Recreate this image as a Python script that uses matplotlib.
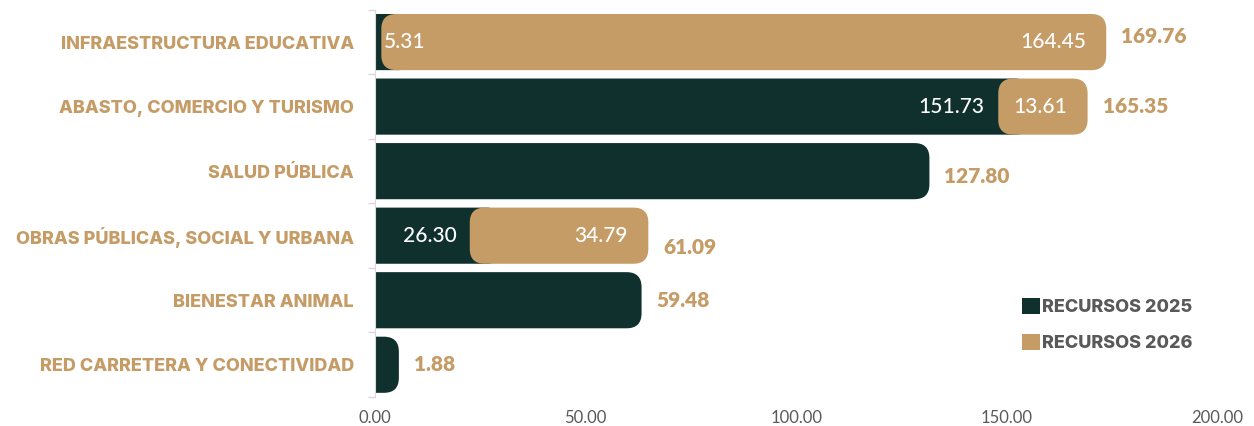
import matplotlib
matplotlib.use("Agg")
import matplotlib.pyplot as plt
from matplotlib.patches import FancyBboxPatch, Patch
from matplotlib.ticker import FuncFormatter

categorias = ["INFRAESTRUCTURA EDUCATIVA", "ABASTO, COMERCIO Y TURISMO", "SALUD PÚBLICA",
              "OBRAS PÚBLICAS, SOCIAL Y URBANA", "BIENESTAR ANIMAL", "RED CARRETERA Y CONECTIVIDAD"]
recursos_2025 = [5.31, 151.73, 127.80, 26.30, 59.48, 1.88]
recursos_2026 = [164.45, 13.61, 0, 34.79, 0, 0]
totales = [169.76, 165.35, 127.80, 61.09, 59.48, 1.88]
series = ["RECURSOS 2025", "RECURSOS 2026"]
ticks_x = [0, 50, 100, 150, 200]

VERDE = "#10302e"
ORO = "#c59b66"
GRIS = "#595959"

plt.rcParams["font.family"] = ["Lato", "DejaVu Sans"]

fig = plt.figure(figsize=(12.54, 4.26), dpi=100)
ax = fig.add_axes([0.299, 0.068, 0.672, 0.909])
ax.set_xlim(0, 200)
ax.set_ylim(5.5, -0.5)

# tamaño de un pixel en unidades de datos (para las barras redondeadas)
px_x = 200 / (0.672 * 1254)
px_y = 6 / (0.909 * 426)
pad = 16 * px_x
alto = 0.87
radio = 15 * px_x
# pequeños desplazamientos verticales de las etiquetas de total (como en el original)
nudge_total = [-0.09, 0, 0.08, 0.18, 0, 0]


def barra(x0, x1, y, color):
    p = FancyBboxPatch((x0 - pad, y - alto / 2), (x1 - x0) + 2 * pad, alto,
                       boxstyle="round,pad=0,rounding_size=%f" % radio,
                       mutation_aspect=px_y / px_x, fc=color, ec="none", zorder=2)
    ax.add_patch(p)


for i in range(len(categorias)):
    v25 = recursos_2025[i]
    v26 = recursos_2026[i]
    barra(0, v25, i, VERDE)
    if v26 > 0:
        barra(v25, v25 + v26, i, ORO)
        # etiquetas internas
        if v25 < 10:
            ax.text(2, i, "%.2f" % v25, ha="left", va="center", color="white",
                    fontsize=15, fontweight="medium", zorder=3)
        else:
            ax.text(v25 - 7, i, "%.2f" % v25, ha="right", va="center", color="white",
                    fontsize=15, fontweight="medium", zorder=3)
        ax.text(v25 + v26 - 1, i, "%.2f" % v26, ha="right", va="center", color="white",
                fontsize=15, fontweight="medium", zorder=3)
    ax.text(totales[i] + pad + 15 * px_x, i + nudge_total[i], "%.2f" % totales[i],
            ha="left", va="center", color=ORO, fontsize=15, fontweight=800, zorder=3)

ax.set_yticks(range(len(categorias)))
ax.set_yticklabels(categorias, color=ORO, fontsize=13, fontweight=800,
                   family=["Inter", "Lato"])
ax.set_yticks([i - 0.5 for i in range(len(categorias) + 1)], minor=True)
ax.tick_params(axis="y", which="major", length=0, pad=15)
ax.tick_params(axis="y", which="minor", length=5, color="#d9d9d9", width=1)

ax.set_xticks(ticks_x)
ax.xaxis.set_major_formatter(FuncFormatter(lambda v, p: "%.2f" % v))
ax.tick_params(axis="x", length=0, pad=9, labelsize=12, labelcolor=GRIS)

for s in ["top", "right", "bottom"]:
    ax.spines[s].set_visible(False)
ax.spines["left"].set_color("#d9d9d9")

handles = [Patch(fc=VERDE, ec="none"), Patch(fc=ORO, ec="none")]
fig.legend(handles, series, loc="upper left", bbox_to_anchor=(0.815, 0.30), frameon=False,
           handlelength=1.0, handleheight=1.0, handletextpad=0.1, labelspacing=0.95,
           borderpad=0, borderaxespad=0,
           prop={"family": ["Inter", "Lato"], "size": 13, "weight": 800}, labelcolor=GRIS)

fig.savefig("out.png", dpi=100)
